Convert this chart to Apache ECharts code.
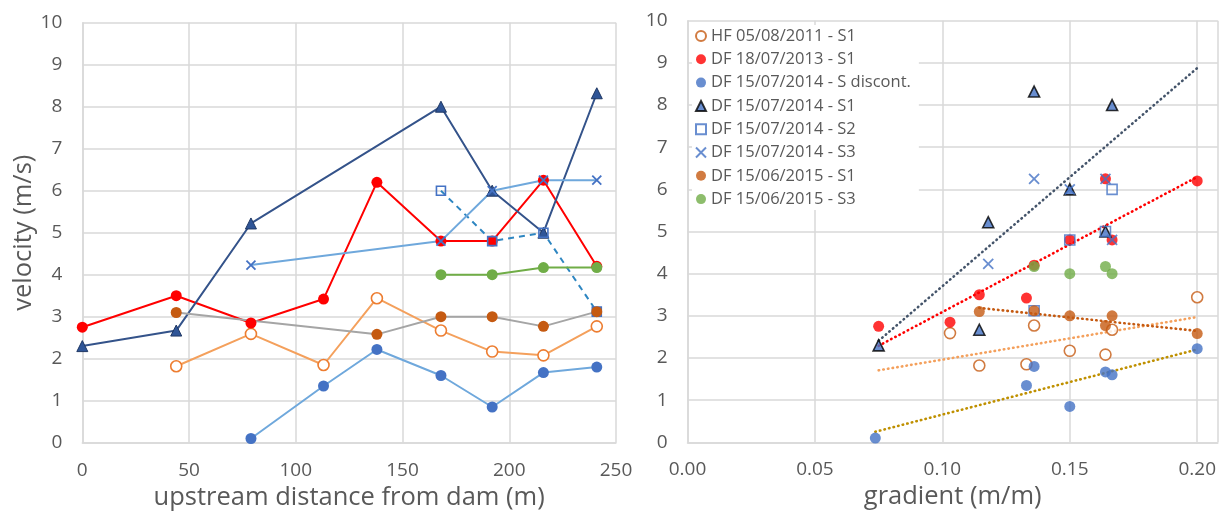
<!DOCTYPE html>
<html>
<head>
<meta charset="utf-8">
<script src="https://cdn.jsdelivr.net/npm/echarts@6/dist/echarts.min.js"></script>
<style>
html,body{margin:0;padding:0;background:#fff;}
#chart{width:1219px;height:516px;}
</style>
</head>
<body>
<div id="chart"></div>
<script>
// ---- data ----
const distances = [0, 44, 79, 113, 138, 168, 192, 216, 241];
const gradientCommon   = [0.075, 0.1145, 0.103, 0.133, 0.2, 0.1666, 0.150, 0.164, 0.136];
const gradient2014     = [0.075, 0.1145, 0.118, 0.133, 0.2, 0.1666, 0.150, 0.164, 0.136];
const gradientDiscont  = [0.075, 0.1145, 0.0737, 0.133, 0.2, 0.1666, 0.150, 0.164, 0.136];

const hf2011   = [null, 1.82, 2.59, 1.85, 3.44, 2.67, 2.17, 2.08, 2.77];
const df2013S1 = [2.75, 3.5, 2.85, 3.42, 6.2, 4.8, 4.8, 6.25, 4.2];
const df2014Sd = [null, null, 0.1, 1.35, 2.22, 1.6, 0.85, 1.67, 1.8];
const df2014S1 = [2.3, 2.67, 5.22, null, null, 8.0, 6.0, 5.0, 8.32];
const df2014S2 = [null, null, null, null, null, 6.0, 4.8, 5.0, 3.12];
const df2014S3 = [null, null, 4.23, null, null, 4.8, 6.0, 6.25, 6.25];
const df2015S1 = [null, 3.1, null, null, 2.58, 3.0, 3.0, 2.77, 3.12];
const df2015S3 = [null, null, null, null, null, 4.0, 4.0, 4.17, 4.17];

const legendNames = ['HF 05/08/2011 - S1', 'DF 18/07/2013 - S1', 'DF 15/07/2014 - S discont.',
  'DF 15/07/2014 - S1', 'DF 15/07/2014 - S2', 'DF 15/07/2014 - S3',
  'DF 15/06/2015 - S1', 'DF 15/06/2015 - S3'];

const trendRangeHF   = [0.075, 0.2];
const trendRange2013 = [0.075, 0.2];
const trendRangeSd   = [0.0737, 0.2];
const trendRangeS1   = [0.075, 0.2];
const trendRange2015 = [0.1145, 0.2];

// ---- helpers ----
function pairs(xs, ys){ const o=[]; for(let i=0;i<ys.length;i++){ if(ys[i]!==null) o.push([xs[i], ys[i]]);} return o; }
function trend(xs, ys, range){
  const p = pairs(xs, ys); const n = p.length;
  let mx=0,my=0; p.forEach(q=>{mx+=q[0];my+=q[1];}); mx/=n; my/=n;
  let sxy=0,sxx=0; p.forEach(q=>{sxy+=(q[0]-mx)*(q[1]-my); sxx+=(q[0]-mx)*(q[0]-mx);});
  const b=sxy/sxx, a=my-b*mx;
  return [[range[0], a+b*range[0]],[range[1], a+b*range[1]]];
}
const XPATH = 'path://M0,0L10,10M10,0L0,10';
const TXT = '#595959';
const GRIDC = '#D9D9D9';
const FONT = '"Open Sans", "DejaVu Sans", sans-serif';

function lineS(name, ys, lineColor, sym, size, itemStyle, lineType){
  return { name:name, type:'line', xAxisIndex:0, yAxisIndex:0, data:pairs(distances, ys),
    symbol:sym, symbolSize:size, itemStyle:itemStyle,
    lineStyle:{color:lineColor, width:2, type:lineType||'solid'}, z:2 };
}
function scatS(name, xs, ys, sym, size, itemStyle){
  return { name:name, type:'scatter', xAxisIndex:1, yAxisIndex:1, data:pairs(xs, ys),
    symbol:sym, symbolSize:size, itemStyle:itemStyle, z:3 };
}
function trendS(data, color){
  return { type:'line', xAxisIndex:1, yAxisIndex:1, data:data, symbol:'none', silent:true,
    lineStyle:{color:color, width:2.6, type:[0.5,4.2], cap:'round'}, z:2 };
}

const series = [
  // left chart
  lineS('L1', hf2011, '#F4A05C', 'circle', 11, {color:'#fff', borderColor:'#ED7D31', borderWidth:1.6}),
  lineS('L2', df2013S1, '#FF0000', 'circle', 11, {color:'#FF0000'}),
  lineS('L3', df2014Sd, '#6FA8DC', 'circle', 11, {color:'#4472C4'}),
  lineS('L4', df2014S1, '#34538A', 'triangle', 11, {color:'#2F5597', borderColor:'#1F3864', borderWidth:1}),
  lineS('L5', df2014S2, '#2E86C1', 'rect', 9, {color:'rgba(0,0,0,0)', borderColor:'#4472C4', borderWidth:1.6}, [6,5]),
  lineS('L6', df2014S3, '#6FA8DC', XPATH, 9, {color:'rgba(0,0,0,0)', borderColor:'#4472C4', borderWidth:1.8}),
  lineS('L7', df2015S1, '#A5A5A5', 'circle', 11, {color:'#C55A11'}),
  lineS('L8', df2015S3, '#70AD47', 'circle', 11, {color:'#70AD47'}),
  // right chart trendlines
  trendS(trend(gradientCommon, hf2011, trendRangeHF), '#F4A05C'),
  trendS(trend(gradientCommon, df2013S1, trendRange2013), '#FF0000'),
  trendS(trend(gradientDiscont, df2014Sd, trendRangeSd), '#BF9000'),
  trendS(trend(gradient2014, df2014S1, trendRangeS1), '#44546A'),
  trendS(trend(gradientCommon, df2015S1, trendRange2015), '#C55A11'),
  // right chart points
  scatS(legendNames[0], gradientCommon, hf2011, 'circle', 11, {color:'#fff', borderColor:'#C55A11', borderWidth:1.6}),
  scatS(legendNames[1], gradientCommon, df2013S1, 'circle', 11, {color:'#FF0000'}),
  scatS(legendNames[2], gradientDiscont, df2014Sd, 'circle', 11, {color:'#4472C4'}),
  scatS(legendNames[3], gradient2014, df2014S1, 'triangle', 11, {color:'#4472C4', borderColor:'#000', borderWidth:1.6}),
  scatS(legendNames[4], gradientCommon, df2014S2, 'rect', 10, {color:'rgba(0,0,0,0)', borderColor:'#4472C4', borderWidth:1.6}),
  scatS(legendNames[5], gradient2014, df2014S3, XPATH, 10, {color:'rgba(0,0,0,0)', borderColor:'#4472C4', borderWidth:1.8}),
  scatS(legendNames[6], gradientCommon, df2015S1, 'circle', 11, {color:'#C55A11'}),
  scatS(legendNames[7], gradientCommon, df2015S3, 'circle', 11, {color:'#70AD47'})
];

function axisCommon(extra){
  return Object.assign({
    type:'value',
    axisLine:{show:true, lineStyle:{color:GRIDC, width:1.5}},
    axisTick:{show:false},
    splitLine:{show:true, lineStyle:{color:GRIDC, width:1.5}},
    axisLabel:{color:TXT, fontSize:19, fontFamily:FONT, margin:18},
    nameTextStyle:{color:TXT, fontSize:25.5, fontFamily:FONT}
  }, extra);
}

const option = {
  animation:false,
  backgroundColor:'#fff',
  textStyle:{fontFamily:FONT},
  grid:[
    {left:82.3, top:22.7, width:533.7, height:420},
    {left:687.5, right:0, top:20.7, height:421.6}
  ],
  xAxis:[
    axisCommon({gridIndex:0, min:0, max:250, interval:50, name:'upstream distance from dam (m)', nameLocation:'middle', nameGap:40}),
    axisCommon({gridIndex:1, min:0, max:0.2081, interval:0.05, name:'gradient (m/m)', nameLocation:'middle', nameGap:40,
      axisLabel:{color:TXT, fontSize:19, fontFamily:FONT, margin:18, showMaxLabel:false,
        formatter:v=>{ const k=v/0.05; return Math.abs(k-Math.round(k))<1e-6 ? v.toFixed(2) : ''; }}})
  ],
  yAxis:[
    axisCommon({gridIndex:0, min:0, max:10, interval:1, name:'velocity (m/s)', nameLocation:'middle', nameGap:44, nameRotate:90,
      axisLabel:{color:TXT, fontSize:19, fontFamily:FONT, margin:20}}),
    axisCommon({gridIndex:1, min:0, max:10, interval:1,
      axisLabel:{color:TXT, fontSize:19, fontFamily:FONT, margin:20}})
  ],
  legend:{
    data:legendNames, orient:'vertical', left:692, top:25,
    itemWidth:10, itemHeight:10, itemGap:5.3,
    backgroundColor:'#fff', padding:[2,8,2,3],
    textStyle:{color:TXT, fontSize:16.5, fontFamily:FONT, lineHeight:18},
    selectedMode:false
  },
  series:series
};

const chart = echarts.init(document.getElementById('chart'), null, {renderer:'canvas'});
chart.setOption(option);
</script>
</body>
</html>
